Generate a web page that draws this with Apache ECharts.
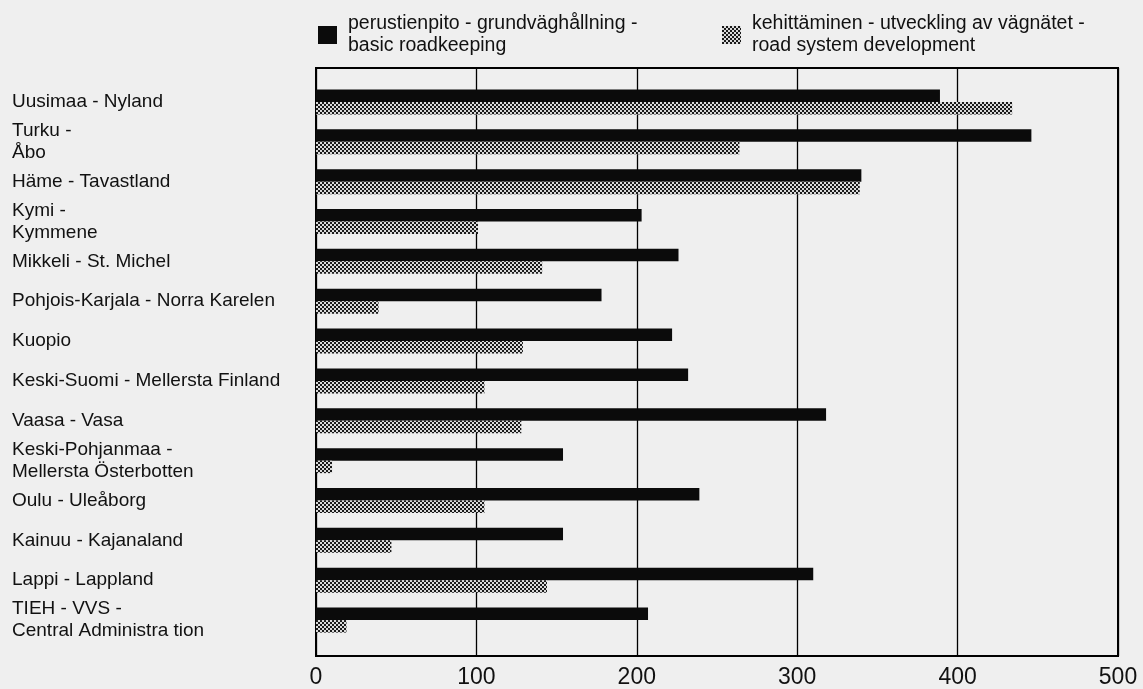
<!DOCTYPE html>
<html><head><meta charset="utf-8">
<script src="https://cdn.jsdelivr.net/npm/echarts@6/dist/echarts.min.js"></script>
<style>html,body{margin:0;padding:0;background:#efefef}#c{width:1143px;height:689px}</style>
</head><body><div id="c"></div>
<script>
const categories = [
  'Uusimaa - Nyland',
  'Turku -\nÅbo',
  'Häme - Tavastland',
  'Kymi -\nKymmene',
  'Mikkeli - St. Michel',
  'Pohjois-Karjala - Norra Karelen',
  'Kuopio',
  'Keski-Suomi - Mellersta Finland',
  'Vaasa - Vasa',
  'Keski-Pohjanmaa -\nMellersta Österbotten',
  'Oulu - Uleåborg',
  'Kainuu - Kajanaland',
  'Lappi - Lappland',
  'TIEH - VVS -\nCentral Administra tion'
];
const basicRoadkeeping = [389, 446, 340, 203, 226, 178, 222, 232, 318, 154, 239, 154, 310, 207];
const roadDevelopment  = [434, 264, 339, 101, 141, 39, 129, 105, 128, 10, 105, 47, 144, 19];
const xTicks = [0, 100, 200, 300, 400, 500];
const seriesNames = [
  'perustienpito - grundväghållning -\nbasic roadkeeping',
  'kehittäminen - utveckling av vägnätet -\nroad system development'
];

const pc = document.createElement('canvas');
pc.width = 4; pc.height = 4;
const pctx = pc.getContext('2d');
pctx.fillStyle = '#dadada'; pctx.fillRect(0, 0, 4, 4);
pctx.fillStyle = '#1a1a1a'; pctx.fillRect(0, 0, 2, 2); pctx.fillRect(2, 2, 2, 2);
const pattern = { image: pc, repeat: 'repeat' };

const font = 'Liberation Sans, Arial, Helvetica, sans-serif';
const legendText = { fontFamily: font, fontSize: 19.5, lineHeight: 22, color: '#111', padding: [0, 0, 0, 6] };
const chart = echarts.init(document.getElementById('c'), null, { renderer: 'canvas' });
chart.setOption({
  backgroundColor: '#efefef',
  animation: false,
  legend: [
    { data: [seriesNames[0]], left: 313, top: 8, icon: 'rect', itemWidth: 19, itemHeight: 18, itemGap: 0,
      textStyle: legendText, selectedMode: false },
    { data: [seriesNames[1]], left: 717, top: 8, icon: 'rect', itemWidth: 19, itemHeight: 18, itemGap: 0,
      textStyle: legendText, selectedMode: false }
  ],
  grid: [
    { left: 316, right: 25, top: 68, bottom: 31, show: true, borderColor: '#000', borderWidth: 2, backgroundColor: 'transparent' },
    { left: 316, right: 25, top: 82, bottom: 49 }
  ],
  xAxis: [
    { gridIndex: 0, type: 'value', min: xTicks[0], max: xTicks[xTicks.length - 1], interval: 100,
      axisLine: { show: false }, axisTick: { show: false },
      splitLine: { show: true, lineStyle: { color: '#000', width: 1.3 } },
      axisLabel: { fontFamily: font, fontSize: 23, color: '#111', margin: 10,
        formatter: v => xTicks.includes(v) ? String(v) : '' } },
    { gridIndex: 1, type: 'value', min: xTicks[0], max: xTicks[xTicks.length - 1], show: false }
  ],
  yAxis: [
    { gridIndex: 0, type: 'value', show: false },
    { gridIndex: 1, type: 'category', data: categories, inverse: true,
      axisLine: { show: false }, axisTick: { show: false }, splitLine: { show: false },
      axisLabel: { align: 'left', margin: 304, fontFamily: font, fontSize: 19, lineHeight: 22, color: '#111' } }
  ],
  series: [
    { name: seriesNames[0], type: 'bar', xAxisIndex: 1, yAxisIndex: 1, data: basicRoadkeeping,
      barWidth: 12.5, barGap: '0%', itemStyle: { color: '#0b0b0b' } },
    { name: seriesNames[1], type: 'bar', xAxisIndex: 1, yAxisIndex: 1, data: roadDevelopment,
      barWidth: 12.5, barGap: '0%', itemStyle: { color: pattern } }
  ]
});
</script></body></html>
